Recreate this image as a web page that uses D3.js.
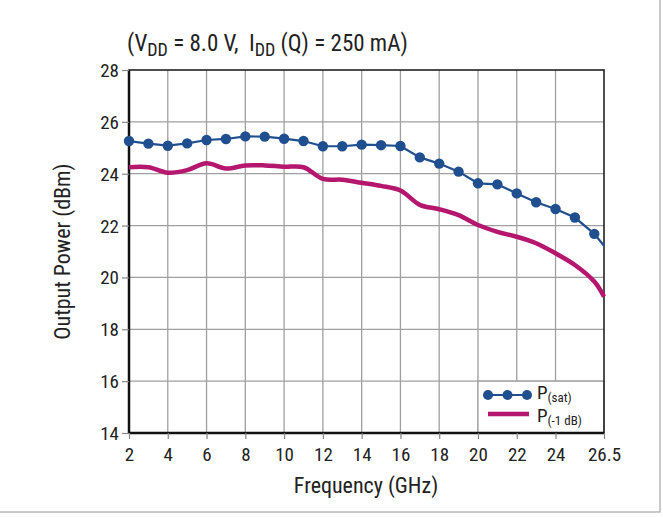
<!DOCTYPE html>
<html>
<head>
<meta charset="utf-8">
<script src="https://cdn.jsdelivr.net/npm/d3@7/dist/d3.min.js"></script>
<style>
  html, body { margin: 0; padding: 0; background: #fff; }
  svg { display: block; }
  text { font-family: "Roboto Condensed", "Liberation Sans Narrow", sans-serif; fill: #222; white-space: pre; }
</style>
</head>
<body>
<svg id="chart" width="663" height="517"></svg>
<script>
// Frequency sweep (GHz) and measured output power (dBm)
const freqSat = [2, 3, 4, 5, 6, 7, 8, 9, 10, 11, 12, 13, 14, 15, 16, 17, 18, 19, 20, 21, 22, 23, 24, 25, 26, 26.5];
const pSat    = [25.26, 25.16, 25.08, 25.17, 25.3, 25.34, 25.44, 25.43, 25.35, 25.26, 25.06, 25.06, 25.12, 25.1, 25.07, 24.63, 24.39, 24.08, 23.63, 23.59, 23.24, 22.9, 22.64, 22.31, 21.68, 21.22];
const freq1dB = [2, 3, 4, 5, 6, 7, 8, 9, 10, 11, 12, 13, 14, 15, 16, 17, 18, 19, 20, 21, 22, 23, 24, 25, 26, 26.5];
const p1dB    = [24.25, 24.25, 24.04, 24.14, 24.4, 24.2, 24.32, 24.32, 24.27, 24.25, 23.8, 23.77, 23.65, 23.53, 23.35, 22.8, 22.63, 22.4, 22.02, 21.76, 21.57, 21.32, 20.93, 20.48, 19.84, 19.26];
const xTicks = [2, 4, 6, 8, 10, 12, 14, 16, 18, 20, 22, 24, 26.5];
const yTicks = [14, 16, 18, 20, 22, 24, 26, 28];

const FONT = '"Roboto Condensed", "Liberation Sans Narrow", sans-serif';
const svg = d3.select("#chart");
const m = { left: 129, right: 604, top: 70, bottom: 433 };

// outer figure frame
svg.append("rect").attr("x", -1).attr("y", -1).attr("width", 661).attr("height", 513)
  .attr("fill", "none").attr("stroke", "#b8b8b8").attr("stroke-width", 1.5);

const x = d3.scaleLinear().domain([2, 26.5]).range([m.left, m.right]);
const y = d3.scaleLinear().domain([14, 28]).range([m.bottom, m.top]);

// grid
const grid = svg.append("g").attr("stroke", "#a0a0a0").attr("stroke-width", 1.3);
xTicks.filter(d => d > 2 && d < 26.5).forEach(d => {
  grid.append("line").attr("x1", x(d)).attr("x2", x(d)).attr("y1", y(28)).attr("y2", y(14));
});
yTicks.filter(d => d > 14 && d < 28).forEach(d => {
  grid.append("line").attr("x1", x(2)).attr("x2", x(26.5)).attr("y1", y(d)).attr("y2", y(d));
});

// legend panel (white cell in the lower-right corner)
const lg = svg.append("g");
lg.append("rect").attr("x", x(20)).attr("y", y(16)).attr("width", x(26.5) - x(20)).attr("height", y(14) - y(16))
  .attr("fill", "#fff").attr("stroke", "#a0a0a0").attr("stroke-width", 1.3);

// plot frame
svg.append("rect").attr("x", m.left).attr("y", m.top).attr("width", m.right - m.left).attr("height", m.bottom - m.top)
  .attr("fill", "none").attr("stroke", "#222").attr("stroke-width", 1.6);
svg.append("line").attr("x1", m.left).attr("x2", m.left).attr("y1", m.top).attr("y2", m.bottom)
  .attr("stroke", "#111").attr("stroke-width", 2.5);
svg.append("line").attr("x1", m.left).attr("x2", m.right).attr("y1", m.bottom).attr("y2", m.bottom)
  .attr("stroke", "#111").attr("stroke-width", 2.5);

// axes
const xAxis = d3.axisBottom(x).tickValues(xTicks).tickSize(6).tickSizeOuter(0).tickFormat(d => d);
const yAxis = d3.axisLeft(y).tickValues(yTicks).tickSize(7).tickSizeOuter(0).tickFormat(d => d);
const gx = svg.append("g").attr("transform", `translate(0,${m.bottom})`).call(xAxis);
const gy = svg.append("g").attr("transform", `translate(${m.left},0)`).call(yAxis);
[gx, gy].forEach(g => {
  g.select(".domain").remove();
  g.selectAll(".tick line").attr("stroke", "#888").attr("stroke-width", 1.2);
  g.selectAll(".tick text").style("font-size", "19px").attr("fill", "#222").style("font-family", FONT);
});
gx.selectAll(".tick text").attr("dy", "1.0em");
gy.selectAll(".tick text").attr("x", -10).attr("dy", "0.34em");

const blue = "#1f4f8f", magenta = "#b5166e";

// P(-1 dB) curve
const line1 = d3.line().x((d, i) => x(freq1dB[i])).y(d => y(d)).curve(d3.curveCatmullRom.alpha(0.5));
svg.append("path").datum(p1dB).attr("d", line1).attr("fill", "none")
  .attr("stroke", magenta).attr("stroke-width", 4.5).attr("stroke-linejoin", "round");

// P(sat) curve with markers at each whole GHz
const lineS = d3.line().x((d, i) => x(freqSat[i])).y(d => y(d));
svg.append("path").datum(pSat).attr("d", lineS).attr("fill", "none")
  .attr("stroke", blue).attr("stroke-width", 2.2);
svg.append("g").selectAll("circle")
  .data(pSat.map((v, i) => ({ f: freqSat[i], v })).filter(d => Number.isInteger(d.f)))
  .join("circle").attr("cx", d => x(d.f)).attr("cy", d => y(d.v)).attr("r", 5.2).attr("fill", blue);

// legend entries
const lx0 = 488, lx1 = 527;
lg.append("line").attr("x1", lx0).attr("x2", lx1).attr("y1", 395).attr("y2", 395).attr("stroke", blue).attr("stroke-width", 2.2);
[lx0, (lx0 + lx1) / 2, lx1].forEach(cx => lg.append("circle").attr("cx", cx).attr("cy", 395).attr("r", 5).attr("fill", blue));
lg.append("line").attr("x1", lx0).attr("x2", lx1 + 2).attr("y1", 414).attr("y2", 414).attr("stroke", magenta).attr("stroke-width", 4.5);
const t1 = lg.append("text").attr("x", 537).attr("y", 399).style("font-size", "19px");
t1.append("tspan").text("P");
t1.append("tspan").attr("dy", 3).style("font-size", "13px").text("(sat)");
const t2 = lg.append("text").attr("x", 537).attr("y", 422).style("font-size", "19px");
t2.append("tspan").text("P");
t2.append("tspan").attr("dy", 3).style("font-size", "13px").text("(-1 dB)");

// title with subscripts
const title = svg.append("text").attr("x", 127).attr("y", 51).style("font-size", "23px");
title.append("tspan").text("(V");
title.append("tspan").attr("dy", 5).style("font-size", "18px").text("DD");
title.append("tspan").attr("dy", -5).text(" = 8.0 V,  I");
title.append("tspan").attr("dy", 5).style("font-size", "18px").text("DD");
title.append("tspan").attr("dy", -5).text(" (Q) = 250 mA)");

// axis titles
svg.append("text").attr("x", 366).attr("y", 493).attr("text-anchor", "middle")
  .style("font-size", "22px").text("Frequency (GHz)");
svg.append("text").attr("transform", `translate(70,${(m.top + m.bottom) / 2}) rotate(-90)`)
  .attr("text-anchor", "middle").style("font-size", "22px").text("Output Power (dBm)");
</script>
</body>
</html>
